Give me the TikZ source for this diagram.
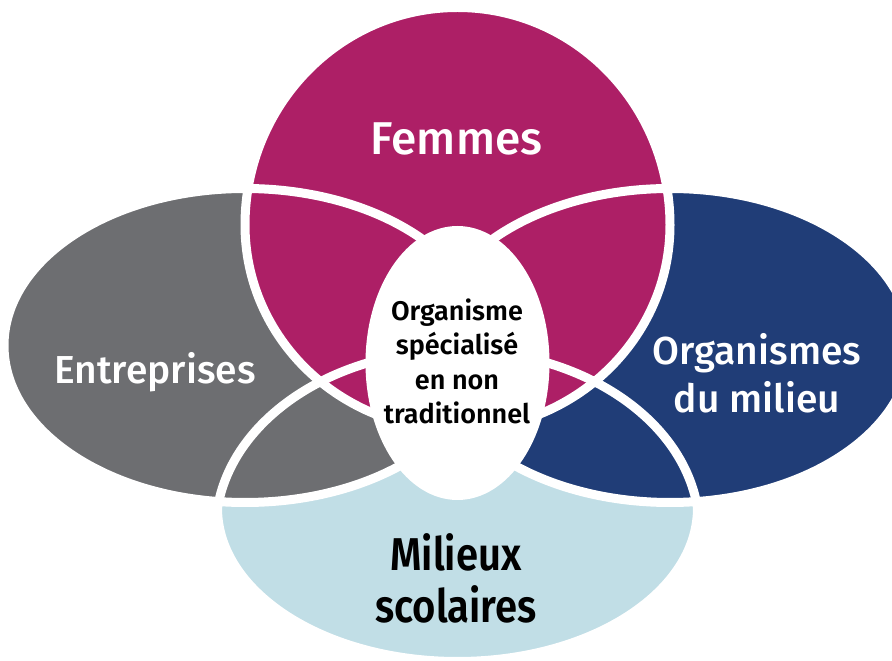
\documentclass[tikz,border=0pt]{standalone}
\usepackage{fontspec}
\setmainfont{Fira Sans}
\IfFontExistsTF{Fira Sans Medium}{\newfontfamily\medfont{Fira Sans Medium}}{\newfontfamily\medfont{Fira Sans}}
\IfFontExistsTF{Fira Sans SemiBold}{%
  \newfontfamily\semifont{Fira Sans SemiBold}%
  \newfontfamily\semicondfont{Fira Sans SemiBold}[FakeStretch=0.87]}{%
  \newfontfamily\semifont{Fira Sans}[UprightFont=*-Bold]%
  \newfontfamily\semicondfont{Fira Sans}[UprightFont=*-Bold,FakeStretch=0.87]}
\definecolor{femcol}{HTML}{AD1F66}
\definecolor{entcol}{HTML}{6D6E71}
\definecolor{orgcol}{HTML}{203D77}
\definecolor{milcol}{HTML}{C1DEE6}
\tikzset{
  petal/.style={draw=white, line width=9pt},
  bigwhite/.style={text=white, inner sep=0pt, anchor=base, font=\medfont\fontsize{39}{44}\selectfont},
  bigblack/.style={text=black, inner sep=0pt, anchor=base, font=\semicondfont\fontsize{46}{50}\selectfont},
  centertext/.style={text=black, inner sep=0pt, anchor=base, font=\semifont\fontsize{27}{32}\selectfont}
}
\begin{document}
\begin{tikzpicture}[x=1pt,y=1pt]
\useasboundingbox (0,0) rectangle (892,661);
\clip (0,0) rectangle (892,661);
% shape paths
\def\pathmil{(217.5,153) arc[start angle=180,end angle=360,x radius=240,y radius=153.5]
   arc[start angle=7.02,end angle=172.98,x radius=241.8,y radius=180] -- cycle}
\def\pathent{(245,315.5) ellipse [x radius=241,y radius=157]}
\def\pathorg{(670,315.5) ellipse [x radius=241,y radius=157]}
\def\pathfem{(245,436) arc[start angle=180,end angle=0,x radius=212.5,y radius=217.5]
   arc[start angle=0,end angle=-180,x radius=212.5,y radius=205] -- cycle}
% fills
\fill[milcol] \pathmil;
\fill[entcol] \pathent;
\fill[orgcol] \pathorg;
\fill[femcol] \pathfem;
% white outlines
\draw[petal] \pathmil;
\draw[petal] \pathent;
\draw[petal] \pathorg;
\draw[petal] \pathfem;
% centre
\fill[white] (457.5,298) ellipse [x radius=92,y radius=137];
% labels
\node[bigwhite, font=\medfont\fontsize{46}{50}\selectfont] (fem) at (456.5,506) {Femmes};
\node[bigwhite] (ent) at (155,277) {Entreprises};
\node[bigwhite] (org1) at (757,296) {Organismes};
\node[bigwhite] (org2) at (757,248) {du milieu};
\node[bigblack] (mil1) at (456,90) {Milieux};
\node[bigblack] (mil2) at (456,38) {scolaires};
\node[centertext] (c1) at (457,340.5) {Organisme};
\node[centertext] (c2) at (457,306) {spécialisé};
\node[centertext] (c3) at (457,271.5) {en non};
\node[centertext] (c4) at (457,237) {traditionnel};
\end{tikzpicture}
\end{document}
